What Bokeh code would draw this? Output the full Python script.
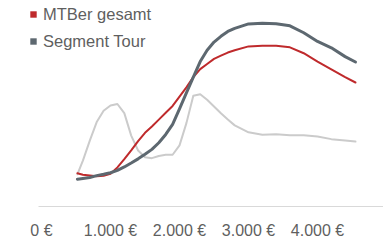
import numpy as np
from bokeh.plotting import figure
from bokeh.models import Range1d, FixedTicker, Legend, LegendItem
from bokeh.embed import file_html
from bokeh.resources import INLINE

# --- data (price in EUR vs. share in %) ---
price = [520, 600, 700, 800, 900, 1000, 1100, 1200, 1300, 1400, 1500, 1600, 1700,
         1800, 1900, 2000, 2100, 2200, 2300, 2400, 2500, 2600, 2700, 2800, 3000,
         3200, 3400, 3600, 3800, 4000, 4200, 4400, 4550]

mtber_gesamt = [3.4, 3.25, 3.17, 3.1, 3.15, 3.35, 4.0, 4.85, 5.75, 6.7, 7.55, 8.2, 8.9,
                9.6, 10.3, 11.25, 12.2, 13.25, 14.07, 14.6, 15.12, 15.45, 15.77, 16.0, 16.4,
                16.47, 16.47, 16.3, 15.7, 14.85, 14.05, 13.25, 12.7]

segment_tour = [2.8, 2.87, 2.97, 3.16, 3.3, 3.46, 3.7, 4.05, 4.45, 4.88, 5.35, 5.85, 6.53,
                7.38, 8.42, 10.0, 11.63, 13.25, 14.85, 16.0, 16.84, 17.43, 17.93, 18.24, 18.7,
                18.77, 18.72, 18.51, 17.8, 16.91, 16.25, 15.35, 14.8]

third_series = [3.3, 4.7, 6.75, 8.65, 9.8, 10.35, 10.5, 9.56, 7.26, 5.74, 5.04, 4.95, 5.18,
                5.3, 5.3, 6.26, 8.54, 11.35, 11.5, 10.93, 10.25, 9.56, 8.92, 8.31, 7.6,
                7.35, 7.39, 7.3, 7.3, 7.17, 6.9, 6.75, 6.65]

tick_values = [0, 1000, 2000, 3000, 4000]
tick_labels = ["0 €", "1.000 €", "2.000 €", "3.000 €", "4.000 €"]

series_names = ["MTBer gesamt", "Segment Tour"]

RED = "#bf2a2c"
DARK = "#5d6870"
LIGHT = "#cbcbcb"
TEXT = "#5f5f5f"
FONT = "Liberation Sans"

p = figure(width=383, height=241, output_backend="svg", toolbar_location=None,
           x_range=Range1d(-594, 4956), y_range=Range1d(0, 21.1),
           min_border_left=0, min_border_right=0, min_border_top=0, min_border_bottom=30)
p.outline_line_color = None
p.grid.visible = False
p.yaxis.visible = False

ax = p.xaxis[0]
ax.ticker = FixedTicker(ticks=tick_values)
ax.bounds = (-43, 4956)
ax.major_label_overrides = {v: l for v, l in zip(tick_values, tick_labels)}
ax.axis_line_color = "#d9d9d9"
ax.axis_line_width = 1
ax.major_tick_line_color = None
ax.minor_tick_line_color = None
ax.major_label_text_font = FONT
ax.major_label_text_font_size = "16px"
ax.major_label_text_color = TEXT
ax.major_label_standoff = 9

p.line(price, third_series, line_color=LIGHT, line_width=2, line_join="round", line_cap="round")
p.line(price, mtber_gesamt, line_color=RED, line_width=2, line_join="round", line_cap="round")
p.line(price, segment_tour, line_color=DARK, line_width=3, line_join="round", line_cap="round")

# legend-only swatches (no visible marks: NaN geometry)
nan = np.array([np.nan])
sq1 = p.quad(left=nan, right=nan, top=nan, bottom=nan, fill_color=RED, line_color=None)
sq2 = p.quad(left=nan, right=nan, top=nan, bottom=nan, fill_color=DARK, line_color=None)

legend = Legend(items=[LegendItem(label=series_names[0], renderers=[sq1]),
                       LegendItem(label=series_names[1], renderers=[sq2])],
                location=(29, 154), orientation="vertical",
                glyph_width=8, glyph_height=8, label_height=22, spacing=5,
                label_standoff=6, padding=0, margin=0,
                label_text_font=FONT, label_text_font_size="16.5px", label_text_color=TEXT,
                background_fill_alpha=0, border_line_alpha=0)
p.add_layout(legend, "center")

open("out.html", "w").write(file_html(p, INLINE))
